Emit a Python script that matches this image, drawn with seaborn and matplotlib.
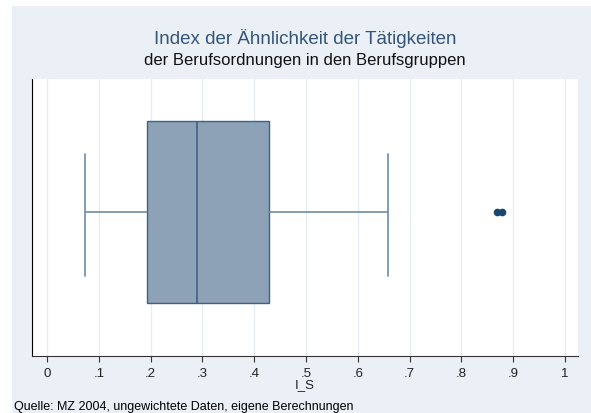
import matplotlib
matplotlib.use("Agg")
import matplotlib.pyplot as plt
import seaborn as sns
from matplotlib.patches import Rectangle

# I_S values (sample reproducing the box plot summary)
i_s = [0.073, 0.11, 0.14, 0.17, 0.193, 0.21, 0.24, 0.27, 0.29,
       0.32, 0.35, 0.39, 0.428, 0.52, 0.658, 0.869, 0.878]
tick_vals = [0, 0.1, 0.2, 0.3, 0.4, 0.5, 0.6, 0.7, 0.8, 0.9, 1.0]
tick_labels = ["0", ".1", ".2", ".3", ".4", ".5", ".6", ".7", ".8", ".9", "1"]

title = "Index der Ähnlichkeit der Tätigkeiten"
subtitle = "der Berufsordnungen in den Berufsgruppen"
xlabel = "I_S"
note = "Quelle: MZ 2004, ungewichtete Daten, eigene Berechnungen"

sns.set_style("white")
plt.rcParams['font.family'] = ['Liberation Sans', 'DejaVu Sans']

fig = plt.figure(figsize=(5.91, 4.14), dpi=100, facecolor="white")
# stata-like light background behind everything
bg = Rectangle((12/591, 0), 1 - 12/591, 1 - 7/414,
               transform=fig.transFigure, facecolor="#EAF0F5",
               edgecolor="none", zorder=-10)
fig.patches.append(bg)
ax = fig.add_axes([32/591, 1 - 357/414, (578-32)/591, (357-80)/414])
ax.set_facecolor("white")

sns.boxplot(x=i_s, ax=ax, width=0.657, whis=1.5,
            color="#8DA2B6", linecolor="#3F6283", linewidth=1.0,
            saturation=1,
            whiskerprops=dict(color="#6E8CA6", linewidth=1.2),
            capprops=dict(color="#6E8CA6", linewidth=1.2),
            medianprops=dict(color="#3F6283", linewidth=1.2),
            flierprops=dict(marker="o", markerfacecolor="#1A476F",
                            markeredgecolor="#1A476F", markersize=4.5))

# caps as in the reference: tall vertical lines
for line in ax.lines:
    xd = line.get_xdata()
    yd = line.get_ydata()
    if len(xd) == 2 and xd[0] == xd[1] and yd[0] != yd[1]:
        if abs(yd[1] - yd[0]) < 0.5:
            line.set_ydata([-0.21, 0.23])

ax.set_xlim(-0.029, 1.025)
ax.set_ylim(0.52, -0.48)
ax.set_xticks(tick_vals)
ax.set_xticklabels(tick_labels, fontsize=9.5, color="#222222")
ax.set_yticks([])
ax.grid(axis="x", color="#E4EDF1", linewidth=1.0)
ax.set_axisbelow(True)
for s in ["top", "right"]:
    ax.spines[s].set_visible(False)
ax.spines["left"].set_color("black")
ax.spines["bottom"].set_color("#333333")
ax.tick_params(axis="x", bottom=True, direction="out", length=4, width=0.8,
               color="#333333", pad=4)
ax.set_xlabel(xlabel, fontsize=9.5, labelpad=-1, color="#222222")

fig.text(305/591, 1 - 38/414, title, ha="center", va="center",
         fontsize=13.5, color="#34547A")
fig.text(305/591, 1 - 60/414, subtitle, ha="center", va="center",
         fontsize=12, color="#111111")
fig.text(14/591, 1 - 407/414, note, ha="left", va="center",
         fontsize=9, color="black")

fig.savefig("out.png", dpi=100, facecolor="white")
